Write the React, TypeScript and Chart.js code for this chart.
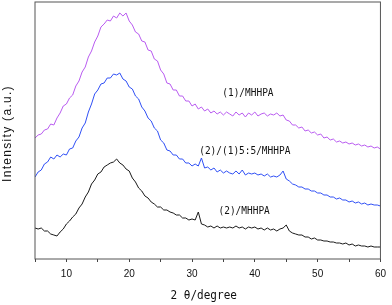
import React, { useEffect, useRef } from "react";
import { Chart, registerables } from "chart.js";

Chart.register(...registerables);

// 2θ sampling grid (degrees)
const ANGLE_START = 5;
const ANGLE_STEP = 0.5;

// Intensity (a.u.), one value per 0.5° from 5° to 60°
const SERIES_1_MHHPA = [
  121, 124, 125, 129, 130, 135, 134, 141, 146, 153,
  155, 161, 164, 173, 178, 187, 192, 202, 208, 217,
  223, 232, 235, 239, 238, 243, 241, 246, 243, 246,
  238, 234, 227, 225, 218, 217, 209, 208, 200, 198,
  189, 185, 176, 175, 169, 169, 163, 163, 158, 158,
  153, 155, 150, 152, 148, 150, 146, 148, 145, 147,
  144, 147, 145, 143, 147, 144, 146, 142, 146, 144,
  147, 143, 145, 146, 143, 145, 144, 146, 143, 144,
  139, 138, 134, 134, 131, 132, 128, 129, 126, 127,
  124, 125, 121, 122, 119, 120, 117, 118, 116, 117,
  115, 116, 114, 115, 113, 114, 112, 113, 111, 112,
  110,
];

const SERIES_MIX_MHHPA = [
  82, 87, 89, 95, 97, 102, 100, 104, 102, 105,
  104, 110, 111, 118, 122, 131, 136, 147, 155, 165,
  169, 175, 176, 181, 181, 185, 184, 186, 180, 178,
  172, 170, 163, 160, 152, 148, 141, 138, 131, 128,
  119, 116, 109, 108, 104, 104, 100, 100, 96, 96,
  93, 95, 93, 101, 91, 92, 89, 91, 87, 89,
  86, 88, 86, 85, 88, 85, 89, 84, 86, 85,
  86, 84, 85, 83, 85, 82, 83, 82, 84, 88,
  80, 78, 75, 74, 72, 72, 70, 70, 68, 68,
  66, 66, 64, 64, 62, 62, 60, 61, 59, 59,
  57, 58, 56, 57, 55, 56, 54, 55, 54, 54,
  53,
];

const SERIES_2_MHHPA = [
  31, 30, 31, 28, 28, 25, 24, 23, 27, 30,
  35, 38, 42, 45, 51, 55, 62, 67, 75, 79,
  85, 87, 92, 94, 96, 97, 100, 96, 94, 90,
  88, 81, 77, 71, 68, 63, 61, 57, 55, 52,
  52, 49, 49, 47, 46, 44, 44, 41, 41, 39,
  40, 39, 47, 35, 34, 32, 33, 31, 33, 31,
  32, 31, 32, 31, 33, 31, 32, 30, 32, 31,
  32, 30, 31, 29, 31, 29, 30, 28, 30, 31,
  34, 28, 26, 25, 24, 24, 22, 22, 20, 21,
  19, 19, 18, 18, 17, 17, 16, 16, 15, 16,
  14, 15, 13, 14, 13, 13, 12, 13, 12, 12,
  12,
];

const SERIES_NAMES = ["(1)/MHHPA", "(2)/(1)5:5/MHHPA", "(2)/MHHPA"];
const SERIES_COLORS = ["#b95cf0", "#3050f5", "#1a1a1a"];
// label anchors in data units (2θ, intensity)
const LABEL_ANGLES = [38.9, 38.4, 38.3];
const LABEL_INTENSITIES = [166, 108, 48];

const X_MIN = 5;
const X_MAX = 60;
const X_TICK_STEP = 5;
const X_LABEL_STEP = 10;
const Y_MIN = 0;
const Y_MAX = 257;

const X_TITLE = "2 θ/degree";
const Y_TITLE = "Intensity (a.u.)";

function toPoints(values: number[]) {
  return values.map((v, i) => ({ x: ANGLE_START + i * ANGLE_STEP, y: v }));
}

const decorPlugin = {
  id: "decor",
  afterDraw(chart: any) {
    const { ctx, chartArea: a, scales } = chart;
    const xs = scales.x;
    const ys = scales.y;
    ctx.save();
    // frame
    ctx.strokeStyle = "#555";
    ctx.lineWidth = 1;
    ctx.strokeRect(a.left, a.top, a.right - a.left, a.bottom - a.top);

    // series labels
    ctx.fillStyle = "#111";
    ctx.textAlign = "center";
    ctx.textBaseline = "middle";
    SERIES_NAMES.forEach((t, i) => {
      const px = xs.getPixelForValue(LABEL_ANGLES[i]);
      const py = ys.getPixelForValue(LABEL_INTENSITIES[i]);
      ctx.save();
      ctx.translate(px, py);
      ctx.scale(0.86, 1);
      ctx.font = '11px "DejaVu Sans Mono"';
      ctx.fillText(t, 0, 0);
      ctx.restore();
    });

    // x title
    ctx.save();
    ctx.translate((a.left + a.right) / 2 - 4, a.bottom + 37);
    ctx.scale(0.85, 1);
    ctx.font = '13px "DejaVu Sans Mono"';
    ctx.fillStyle = "#111";
    ctx.fillText(X_TITLE, 0, 0);
    ctx.restore();

    // y title
    ctx.save();
    ctx.translate(8, (a.top + a.bottom) / 2 + 3);
    ctx.rotate(-Math.PI / 2);
    ctx.font = '12px "Liberation Sans"';
    (ctx as any).letterSpacing = "1.3px";
    ctx.fillStyle = "#111";
    ctx.fillText(Y_TITLE, 0, 0);
    ctx.restore();

    ctx.restore();
  },
};

export default function App() {
  const canvasRef = useRef<HTMLCanvasElement | null>(null);

  useEffect(() => {
    document.body.style.margin = "0";
    const canvas = canvasRef.current;
    if (!canvas) return;
    const seriesValues = [SERIES_1_MHHPA, SERIES_MIX_MHHPA, SERIES_2_MHHPA];
    const chart = new Chart(canvas, {
      type: "line",
      data: {
        datasets: seriesValues.map((vals, i) => ({
          label: SERIES_NAMES[i],
          data: toPoints(vals),
          borderColor: SERIES_COLORS[i],
          borderWidth: 1,
          pointRadius: 0,
          tension: 0,
          fill: false,
        })),
      },
      options: {
        responsive: false,
        animation: false,
        devicePixelRatio: 1,
        layout: { padding: { top: 2, right: 7, left: 0, bottom: 0 } },
        plugins: {
          legend: { display: false },
          tooltip: { enabled: false },
        },
        scales: {
          x: {
            type: "linear",
            min: X_MIN,
            max: X_MAX,
            border: { display: false },
            grid: {
              drawOnChartArea: false,
              drawTicks: true,
              tickLength: 3,
              color: "#444",
            },
            ticks: {
              stepSize: X_TICK_STEP,
              autoSkip: false,
              maxRotation: 0,
              padding: 6,
              color: "#111",
              font: { family: "Liberation Sans", size: 10 },
              callback: (v: any) => (Number(v) % X_LABEL_STEP === 0 ? String(v) : ""),
            },
            afterFit: (s: any) => {
              s.height = 46;
            },
          },
          y: {
            type: "linear",
            min: Y_MIN,
            max: Y_MAX,
            border: { display: false },
            grid: { display: false },
            ticks: { display: false },
            afterFit: (s: any) => {
              s.width = 35;
            },
          },
        },
      },
      plugins: [decorPlugin],
    });
    return () => chart.destroy();
  }, []);

  return (
    <div style={{ position: "fixed", left: 0, top: 0, width: 392, height: 305 }}>
      <canvas ref={canvasRef} width={392} height={305} />
    </div>
  );
}
